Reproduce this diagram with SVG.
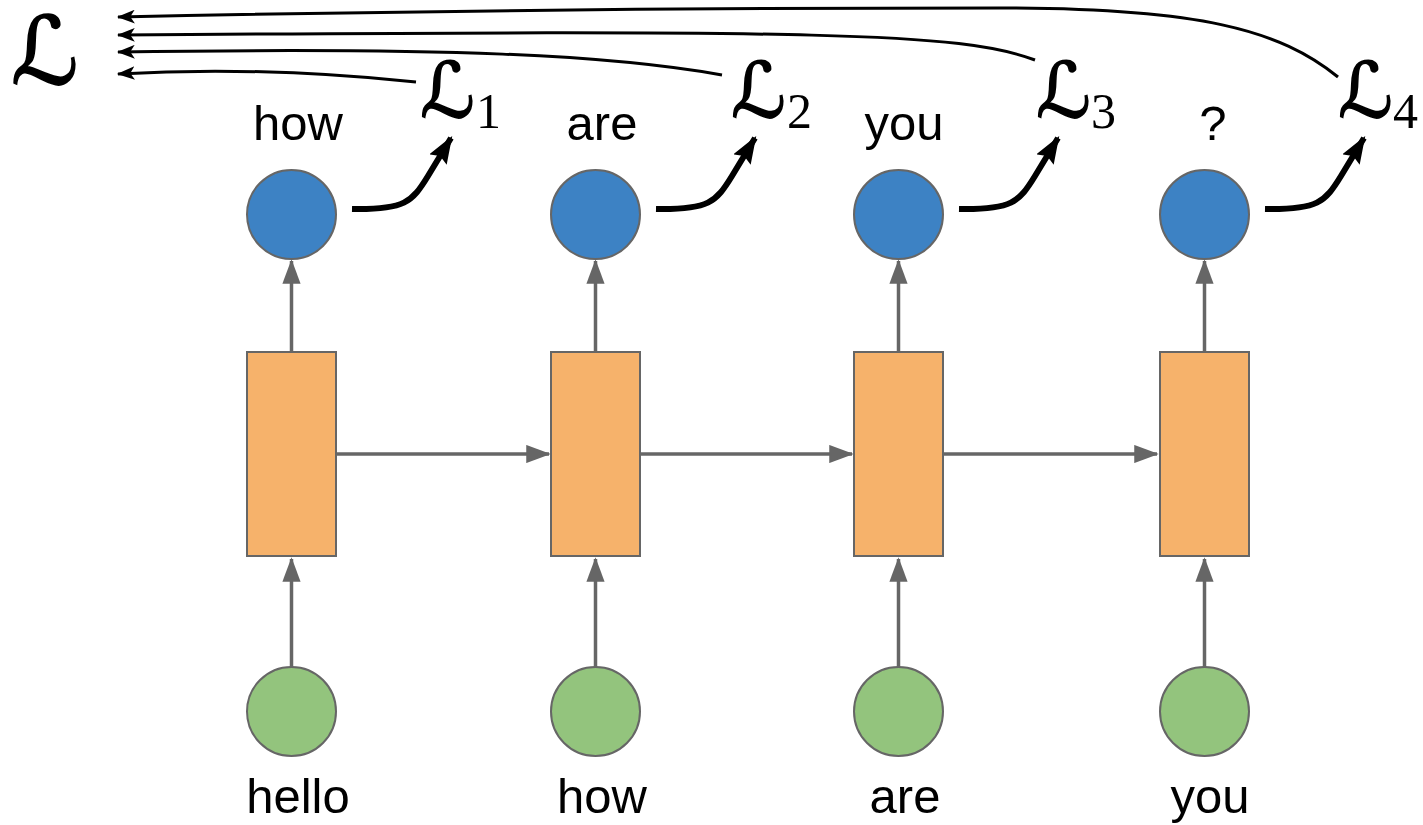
<svg xmlns="http://www.w3.org/2000/svg" width="1423" height="825" viewBox="0 0 1423 825">
  <defs>
    <marker id="grayHead" markerWidth="7" markerHeight="5.2" refX="6.5" refY="2.6" orient="auto" markerUnits="strokeWidth">
      <path d="M0,0 L7,2.6 L0,5.2 Z" fill="#666666"/>
    </marker>
    <marker id="lossHead" markerWidth="4.6" markerHeight="3.4" refX="4.2" refY="1.7" orient="auto" markerUnits="strokeWidth">
      <path d="M0,0 L4.6,1.7 L0,3.4 L0.7,1.7 Z" fill="#000000"/>
    </marker>
    <marker id="sumHead" markerWidth="6" markerHeight="4.6" refX="5.6" refY="2.3" orient="auto" markerUnits="strokeWidth">
      <path d="M0,0 L6,2.3 L0,4.6 L1.5,2.3 Z" fill="#000000"/>
    </marker>
    <style>
      .out { fill: #3d82c4; stroke: #666666; stroke-width: 2; }
      .inp { fill: #93c47d; stroke: #666666; stroke-width: 2; }
      .cell { fill: #f6b26b; stroke: #666666; stroke-width: 2; }
      .flow { stroke: #666666; stroke-width: 3.5; fill: none; marker-end: url(#grayHead); }
      .loss { stroke: #000000; stroke-width: 6; fill: none; stroke-linecap: butt; marker-end: url(#lossHead); }
      .sum { stroke: #000000; stroke-width: 3; fill: none; marker-end: url(#sumHead); }
      .word { font-family: "Liberation Sans", Arial, sans-serif; font-size: 49px; fill: #000000; text-anchor: middle; }
      .cal { font-family: "DejaVu Sans", sans-serif; fill: #000000; stroke: #000000; stroke-width: 1.6; }
      .sub { font-family: "Liberation Serif", serif; font-size: 50px; fill: #000000; }
    </style>
  </defs>

  <!-- connectors -->
  <g id="connectors">
    <!-- input -> cell -->
    <line class="flow" x1="291.5" y1="667" x2="291.5" y2="559"/>
    <line class="flow" x1="595.5" y1="667" x2="595.5" y2="559"/>
    <line class="flow" x1="898.5" y1="667" x2="898.5" y2="559"/>
    <line class="flow" x1="1204.5" y1="667" x2="1204.5" y2="559"/>
    <!-- cell -> output -->
    <line class="flow" x1="291.5" y1="352" x2="291.5" y2="261"/>
    <line class="flow" x1="595.5" y1="352" x2="595.5" y2="261"/>
    <line class="flow" x1="898.5" y1="352" x2="898.5" y2="261"/>
    <line class="flow" x1="1204.5" y1="352" x2="1204.5" y2="261"/>
    <!-- recurrent state -->
    <line class="flow" x1="336" y1="454" x2="549" y2="454"/>
    <line class="flow" x1="640" y1="454" x2="852" y2="454"/>
    <line class="flow" x1="943" y1="454" x2="1157" y2="454"/>
    <!-- output -> per-step loss -->
    <path class="loss" d="M352,209 C405,210 412,202 428,176 L451,138"/>
    <path class="loss" d="M656,209 C709,210 716,202 732,176 L755,138"/>
    <path class="loss" d="M959,209 C1012,210 1019,202 1035,176 L1058,138"/>
    <path class="loss" d="M1265,209 C1318,210 1325,202 1341,176 L1364,138"/>
    <!-- per-step loss -> total loss -->
    <path class="sum" d="M416,82 C320,72 220,68 118,74"/>
    <path class="sum" d="M722,75 C610,55 450,47 118,52"/>
    <path class="sum" d="M1035,60 C960,32 820,30 118,35"/>
    <path class="sum" d="M1338,77 C1280,30 1200,8 1000,8 C700,8 400,11 118,17"/>
  </g>

  <!-- total loss -->
  <g id="total-loss">
    <text class="cal" x="11" y="84" font-size="94">ℒ</text>
  </g>

  <!-- step 1 -->
  <g id="step1">
    <circle id="x1" class="inp" cx="291.5" cy="711.5" r="44.5"/>
    <rect id="h1" class="cell" x="247" y="352" width="89" height="204"/>
    <circle id="y1" class="out" cx="291.5" cy="214.5" r="44.5"/>
    <text class="word" x="298" y="813">hello</text>
    <text class="word" x="298" y="140">how</text>
    <text class="cal" x="420" y="117" font-size="76">ℒ</text>
    <text class="sub" x="476" y="128">1</text>
  </g>

  <!-- step 2 -->
  <g id="step2">
    <circle id="x2" class="inp" cx="595.5" cy="711.5" r="44.5"/>
    <rect id="h2" class="cell" x="551" y="352" width="89" height="204"/>
    <circle id="y2" class="out" cx="595.5" cy="214.5" r="44.5"/>
    <text class="word" x="602" y="813">how</text>
    <text class="word" x="602" y="140">are</text>
    <text class="cal" x="731" y="117" font-size="76">ℒ</text>
    <text class="sub" x="787" y="128">2</text>
  </g>

  <!-- step 3 -->
  <g id="step3">
    <circle id="x3" class="inp" cx="898.5" cy="711.5" r="44.5"/>
    <rect id="h3" class="cell" x="854" y="352" width="89" height="204"/>
    <circle id="y3" class="out" cx="898.5" cy="214.5" r="44.5"/>
    <text class="word" x="905" y="813">are</text>
    <text class="word" x="904" y="140">you</text>
    <text class="cal" x="1036" y="117" font-size="76">ℒ</text>
    <text class="sub" x="1091" y="128">3</text>
  </g>

  <!-- step 4 -->
  <g id="step4">
    <circle id="x4" class="inp" cx="1204.5" cy="711.5" r="44.5"/>
    <rect id="h4" class="cell" x="1160" y="352" width="89" height="204"/>
    <circle id="y4" class="out" cx="1204.5" cy="214.5" r="44.5"/>
    <text class="word" x="1210" y="813">you</text>
    <text class="word" x="1213" y="140">?</text>
    <text class="cal" x="1338" y="117" font-size="76">ℒ</text>
    <text class="sub" x="1393" y="128">4</text>
  </g>
</svg>
